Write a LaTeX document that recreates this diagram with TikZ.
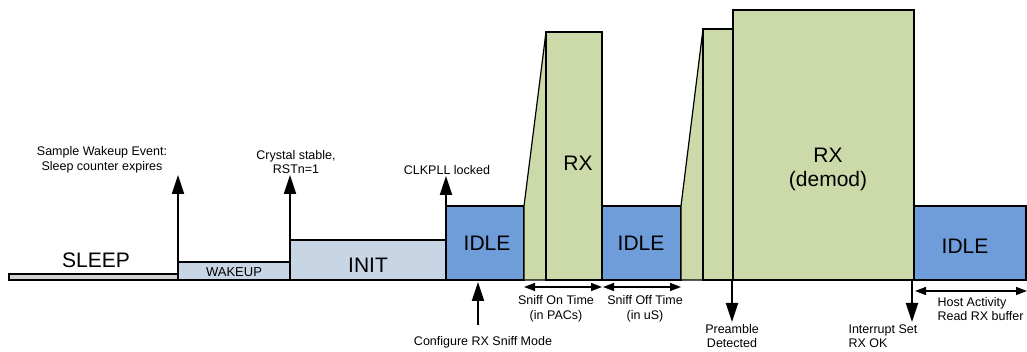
\documentclass[tikz,border=0pt]{standalone}
\usepackage{fontspec}
\setmainfont{Liberation Sans}
\usetikzlibrary{arrows.meta}
\definecolor{gris}{HTML}{D0D0D0}
\definecolor{celeste}{HTML}{C8D5E5}
\definecolor{azul}{HTML}{6E9DDA}
\definecolor{verde}{HTML}{CCDAA9}

\begin{document}
\begin{tikzpicture}[x=1pt,y=-1pt,
    caja/.style={draw,line width=1.2pt},
    flecha/.style={line width=2.2pt,-{Triangle[width=12pt,length=19pt]}},
    cota/.style={line width=1.3pt,{Triangle[width=8pt,length=11pt]}-{Triangle[width=8pt,length=11pt]}},
    grande/.style={font=\fontsize{21}{24}\selectfont},
    chica/.style={font=\fontsize{12.5}{14.5}\selectfont,align=center}]
\useasboundingbox (0,0) rectangle (1027,352);

% Bloques
\draw[caja,fill=gris] (9,274) rectangle (178,280);
\draw[caja,fill=celeste] (178,262) rectangle (290,280);
\draw[caja,fill=celeste] (290,240) rectangle (446,280);
\draw[caja,fill=azul] (446,206) rectangle (524,280);
\draw[caja,fill=verde] (524,280) -- (524,206) -- (546,32) -- (546,280) -- cycle;
\draw[caja,fill=verde] (546,32) rectangle (602,280);
\draw[caja,fill=azul] (602,206) rectangle (681,280);
\draw[caja,fill=verde] (681,280) -- (681,206) -- (703,29) -- (703,280) -- cycle;
\draw[caja,fill=verde] (703,29) rectangle (733,280);
\draw[caja,fill=verde] (733,10) rectangle (914,280);
\draw[caja,fill=azul] (914,206) rectangle (1026,280);

% Estados
\node[grande] (sleep) at (96,260) {SLEEP};
\node[font=\fontsize{13}{15}\selectfont] (wakeup) at (234,272) {WAKEUP};
\node[grande] (init) at (368,265) {INIT};
\node[grande] (idle1) at (487,243) {IDLE};
\node[grande] (rx1) at (578,163) {RX};
\node[grande] (idle2) at (641,243) {IDLE};
\node[grande,align=center] (rx2) at (828,169) {RX\\(demod)};
\node[grande] (idle3) at (965,246) {IDLE};

% Eventos
\coordinate (e1) at (178,281);
\coordinate (t1) at (178,175);
\coordinate (e2) at (290,281);
\coordinate (t2) at (290,175);
\coordinate (e3) at (446,281);
\coordinate (t3) at (446,176);
\coordinate (e4) at (478,325);
\coordinate (t4) at (478,282);
\coordinate (e5) at (732,279);
\coordinate (t5) at (732,322);
\coordinate (e6) at (912,279);
\coordinate (t6) at (912,322);
\draw[flecha] (e1) -- (t1);
\draw[flecha] (e2) -- (t2);
\draw[flecha] (e3) -- (t3);
\draw[flecha] (e4) -- (t4);
\draw[flecha] (e5) -- (t5);
\draw[flecha] (e6) -- (t6);

% Cotas
\coordinate (on1) at (524,287);
\coordinate (on2) at (602,287);
\coordinate (off1) at (603,287);
\coordinate (off2) at (681,287);
\coordinate (host1) at (915,291);
\coordinate (host2) at (1027,291);
\draw[cota] (on1) -- (on2);
\draw[cota] (off1) -- (off2);
\draw[cota] (host1) -- (host2);

% Textos
\node[chica] (wake) at (102,160) {Sample Wakeup Event:\\Sleep counter expires};
\node[chica] (xtal) at (296,162) {Crystal stable,\\RSTn=1};
\node[chica] (pll) at (447,170) {CLKPLL locked};
\node[chica] (conf) at (483,342) {Configure RX Sniff Mode};
\node[chica] (ontime) at (556,309) {Sniff On Time\\(in PACs)};
\node[chica] (offtime) at (645,309) {Sniff Off Time\\(in uS)};
\node[chica,font=\fontsize{12.5}{13.5}\selectfont] (pre) at (732,336) {Preamble\\Detected};
\node[chica,font=\fontsize{12.5}{13.5}\selectfont,align=left,anchor=west] (irq) at (845,336) {Interrupt Set\\RX OK};
\node[chica,align=left,anchor=west] (host) at (934,309) {Host Activity\\Read RX buffer};
\end{tikzpicture}
\end{document}
